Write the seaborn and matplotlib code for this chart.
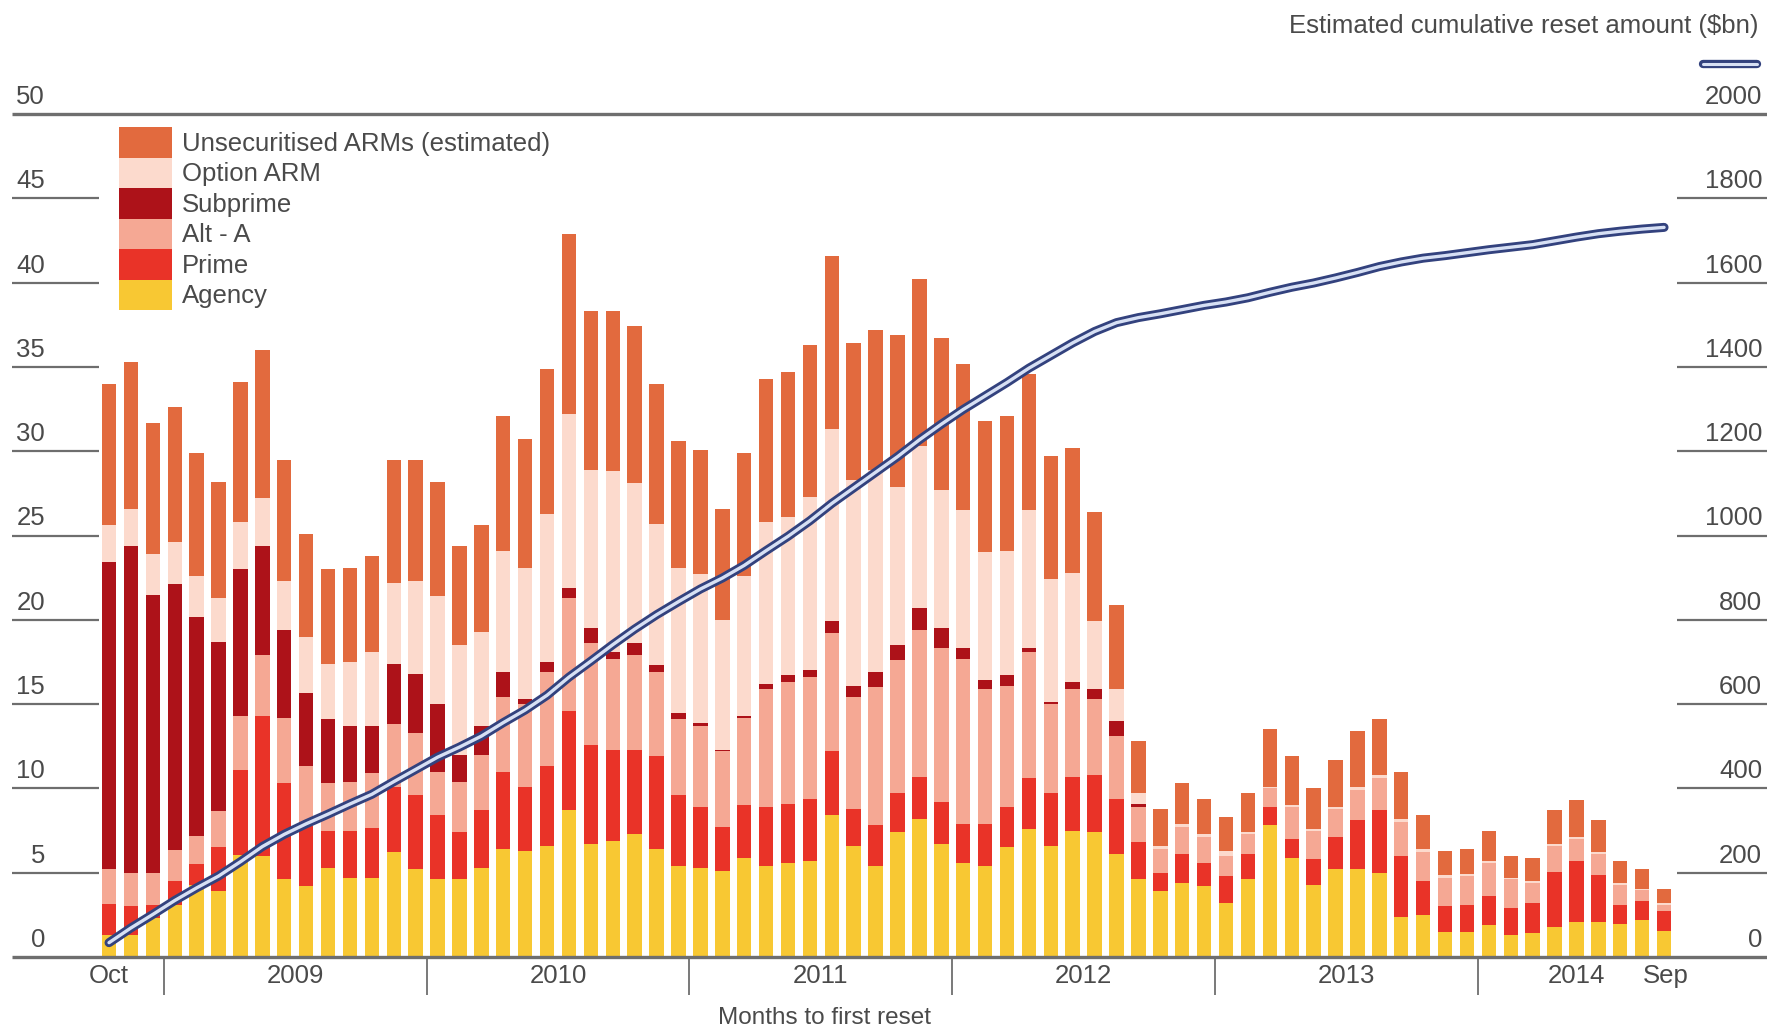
import numpy as np
import pandas as pd
import matplotlib.pyplot as plt
import seaborn as sns
from matplotlib.patches import Patch
from matplotlib.lines import Line2D

sns.set_style("white")
plt.rcParams['font.family'] = ['Liberation Sans', 'DejaVu Sans']

# months to first reset: Oct 2008 .. Sep 2014
months = pd.date_range('2008-10-01', periods=72, freq='MS')

## stacked segments ($bn)
agency = [1.3, 1.3, 2.3, 3.1, 4.3, 3.9, 6.05, 6.0, 4.6, 4.2, 5.3, 4.7,
          4.7, 6.2, 5.2, 4.65, 4.6, 5.3, 6.4, 6.3, 6.6, 8.7, 6.7, 6.9,
          7.3, 6.4, 5.4, 5.3, 5.1, 5.9, 5.4, 5.6, 5.7, 8.4, 6.6, 5.4,
          7.4, 8.2, 6.7, 5.6, 5.4, 6.5, 7.6, 6.6, 7.5, 7.4, 6.1, 4.6,
          3.9, 4.4, 4.2, 3.2, 4.6, 7.8, 5.9, 4.3, 5.2, 5.2, 5.0, 2.4,
          2.5, 1.5, 1.5, 1.9, 1.3, 1.4, 1.8, 2.1, 2.1, 1.95, 2.2, 1.55]
prime = [1.85, 1.75, 0.8, 1.4, 1.2, 2.65, 5.05, 8.3, 5.7, 3.55, 2.15, 2.75,
         2.95, 3.9, 4.4, 3.75, 2.8, 3.4, 4.6, 3.8, 4.7, 5.9, 5.9, 5.4,
         5.0, 5.5, 4.2, 3.6, 2.6, 3.1, 3.5, 3.5, 3.7, 3.8, 2.2, 2.4,
         2.3, 2.5, 2.5, 2.3, 2.5, 2.4, 3.0, 3.1, 3.2, 3.4, 3.3, 2.2,
         1.1, 1.7, 1.4, 1.6, 1.5, 1.1, 1.1, 1.5, 1.9, 2.9, 3.7, 3.6,
         2.0, 1.5, 1.6, 1.7, 1.6, 1.8, 3.25, 3.6, 2.75, 1.15, 1.1, 1.15]
alt_a = [2.05, 1.95, 1.9, 1.85, 1.65, 2.1, 3.2, 3.6, 3.9, 3.55, 2.85, 2.95,
         3.25, 3.7, 3.7, 2.6, 3.0, 3.3, 4.4, 4.9, 5.6, 6.7, 6.0, 5.4,
         5.6, 5.0, 4.5, 4.8, 4.5, 5.2, 7.0, 7.2, 7.2, 7.0, 6.6, 8.2,
         7.9, 8.7, 9.1, 9.8, 8.0, 7.2, 7.5, 5.3, 5.2, 4.5, 3.7, 2.1,
         1.4, 1.6, 1.5, 1.2, 1.2, 1.1, 1.9, 1.7, 1.7, 1.8, 1.9, 2.0,
         1.7, 1.7, 1.7, 2.0, 1.7, 1.2, 1.55, 1.3, 1.25, 1.2, 0.65, 0.4]
subprime = [18.25, 19.35, 16.5, 15.75, 13.0, 10.05, 8.7, 6.5, 5.2, 4.35, 3.8, 3.3,
            2.8, 3.6, 3.5, 4.0, 1.6, 1.7, 1.5, 0.3, 0.6, 0.6, 0.9, 0.4,
            0.7, 0.4, 0.4, 0.2, 0.1, 0.1, 0.3, 0.4, 0.4, 0.7, 0.7, 0.9,
            0.9, 1.3, 1.2, 0.6, 0.5, 0.6, 0.2, 0.1, 0.4, 0.6, 0.9, 0.2,
            0, 0, 0, 0, 0, 0, 0, 0, 0, 0, 0, 0,
            0, 0, 0, 0, 0, 0, 0, 0, 0, 0, 0, 0]
option_arm = [2.2, 2.25, 2.4, 2.5, 2.45, 2.6, 2.8, 2.8, 2.9, 3.35, 3.3, 3.8,
              4.4, 4.8, 5.5, 6.4, 6.5, 5.6, 7.2, 7.8, 8.8, 10.3, 9.4, 10.7,
              9.5, 8.4, 8.6, 8.8, 7.7, 8.3, 9.6, 9.4, 10.3, 11.4, 12.2, 12.0,
              9.4, 9.6, 8.2, 8.2, 7.6, 7.4, 8.2, 7.3, 6.5, 4.0, 1.9, 0.6,
              0.2, 0.2, 0.2, 0.3, 0.1, 0.1, 0.1, 0.1, 0.1, 0.2, 0.2, 0.2,
              0.2, 0.15, 0.1, 0.1, 0.1, 0.1, 0.1, 0.1, 0.1, 0.1, 0.1, 0.1]
unsecuritised = [8.35, 8.7, 7.8, 8.0, 7.3, 6.9, 8.3, 8.8, 7.2, 6.1, 5.6, 5.6,
                 5.7, 7.25, 7.2, 6.8, 5.9, 6.3, 8.0, 7.6, 8.6, 10.7, 9.4, 9.5,
                 9.3, 8.3, 7.5, 7.4, 6.6, 7.3, 8.5, 8.6, 9.0, 10.3, 8.1, 8.3,
                 9.0, 9.9, 9.0, 8.7, 7.8, 8.0, 8.1, 7.3, 7.4, 6.5, 5.0, 3.1,
                 2.2, 2.4, 2.1, 2.0, 2.3, 3.4, 2.9, 2.4, 2.8, 3.3, 3.3, 2.8,
                 2.0, 1.45, 1.5, 1.8, 1.3, 1.4, 2.0, 2.2, 1.9, 1.3, 1.15, 0.85]

## estimated cumulative reset amount ($bn), right axis
cumulative = [34, 69, 101, 134, 164, 192, 226, 262, 291, 316, 339, 363,
              386, 416, 445, 474, 498, 524, 556, 586, 621, 664, 702, 741,
              778, 812, 843, 873, 899, 929, 964, 998, 1035, 1076, 1113, 1150,
              1187, 1227, 1264, 1299, 1331, 1363, 1397, 1427, 1457, 1484, 1505, 1517,
              1526, 1536, 1546, 1554, 1564, 1577, 1589, 1599, 1611, 1624, 1638, 1649,
              1658, 1664, 1671, 1678, 1684, 1690, 1699, 1708, 1716, 1722, 1727, 1731]

series_names = ['Unsecuritised ARMs (estimated)', 'Option ARM', 'Subprime',
                'Alt - A', 'Prime', 'Agency']
colors = ['#e26a3e', '#fcdacd', '#ad1219', '#f5a894', '#e93328', '#f8c833']

left_ticks = [0, 5, 10, 15, 20, 25, 30, 35, 40, 45, 50]
right_ticks = [0, 200, 400, 600, 800, 1000, 1200, 1400, 1600, 1800, 2000]
year_labels = ['Oct', '2009', '2010', '2011', '2012', '2013', '2014', 'Sep']
year_pos = [0, 8.5, 20.5, 32.5, 44.5, 56.5, 67, 71.1]
year_breaks = [2.5, 14.5, 26.5, 38.5, 50.5, 62.5]

txt = '#4a4a4a'
grid = '#6e6e6e'

pos = np.arange(len(months))
seg = {
    series_names[0]: unsecuritised,
    series_names[1]: option_arm,
    series_names[2]: subprime,
    series_names[3]: alt_a,
    series_names[4]: prime,
    series_names[5]: agency,
}
df = pd.concat([pd.DataFrame({'pos': pos, 'value': v, 'series': k}) for k, v in seg.items()])

fig = plt.figure(figsize=(17.67, 10.32), dpi=100)
ax = fig.add_axes([12 / 1767, 75 / 1032, 1755 / 1767, 843 / 1032])

sns.histplot(data=df, x='pos', weights='value', hue='series', hue_order=series_names,
             palette=dict(zip(series_names, colors)), multiple='stack', discrete=True,
             shrink=0.66, alpha=1, linewidth=0, legend=False, ax=ax)

xmin, xmax = -4.43, 75.7
ax.set_xlim(xmin, xmax)
ax.set_ylim(0, 50)
ax.set_xlabel('')
ax.set_ylabel('')
ax.set_xticks([])
ax.set_yticks([])
sns.despine(ax=ax, left=True, bottom=True)

# short tick lines at both sides, full lines at 0 and 50
for v in left_ticks:
    if v in (0, 50):
        ax.hlines(v, xmin, xmax, color=grid, lw=2.4, clip_on=False, zorder=5)
    else:
        ax.hlines(v, xmin, -0.46, color=grid, lw=1.6, clip_on=False)
        ax.hlines(v, 71.6, xmax, color=grid, lw=1.6, clip_on=False)
    ax.text(-2.92, v + 0.3, str(v), ha='right', va='bottom', fontsize=18.5, color=txt)
for v in right_ticks:
    ax.text(75.48, v / 40 + 0.3, str(v), ha='right', va='bottom', fontsize=18.5, color=txt)

ax.vlines(year_breaks, -2.25, 0, color=grid, lw=1.3, clip_on=False)
for p, lab in zip(year_pos, year_labels):
    ax.text(p, -1.1, lab, ha='center', va='center', fontsize=18.5, color=txt)

fig.text(824 / 1767, 1 - 1018 / 1032, 'Months to first reset', ha='center', va='center',
         fontsize=17.5, color=txt)

# cumulative line on right scale
ax2 = ax.twinx()
ax2.set_ylim(0, 2000)
sns.lineplot(x=pos, y=cumulative, ax=ax2, color='#33427e', linewidth=6.5,
             solid_capstyle='round')
sns.lineplot(x=pos, y=cumulative, ax=ax2, color='#d7e0f4', linewidth=2.4,
             solid_capstyle='round')
ax2.set_xlim(xmin, xmax)
ax2.set_axis_off()

handles = [Patch(facecolor=c, edgecolor='none') for c in colors]
leg = ax.legend(handles, series_names, loc='upper left',
                bbox_to_anchor=(119 / 1767, 1 - 127 / 1032), bbox_transform=fig.transFigure,
                frameon=False, fontsize=18.5, handlelength=2.05, handleheight=1.45,
                labelspacing=0, handletextpad=0.4, borderpad=0, borderaxespad=0,
                labelcolor=txt)
leg.set_zorder(10)

fig.text(1758 / 1767, 1 - 26 / 1032, 'Estimated cumulative reset amount ($bn)',
         ha='right', va='center', fontsize=18.5, color=txt)
for lw, c in [(6.0, '#33427e'), (2.2, '#d7e0f4')]:
    fig.add_artist(Line2D([1703 / 1767, 1757 / 1767], [1 - 64 / 1032, 1 - 64 / 1032],
                          color=c, lw=lw, solid_capstyle='round'))

fig.savefig('out.png', dpi=100, facecolor='white')
